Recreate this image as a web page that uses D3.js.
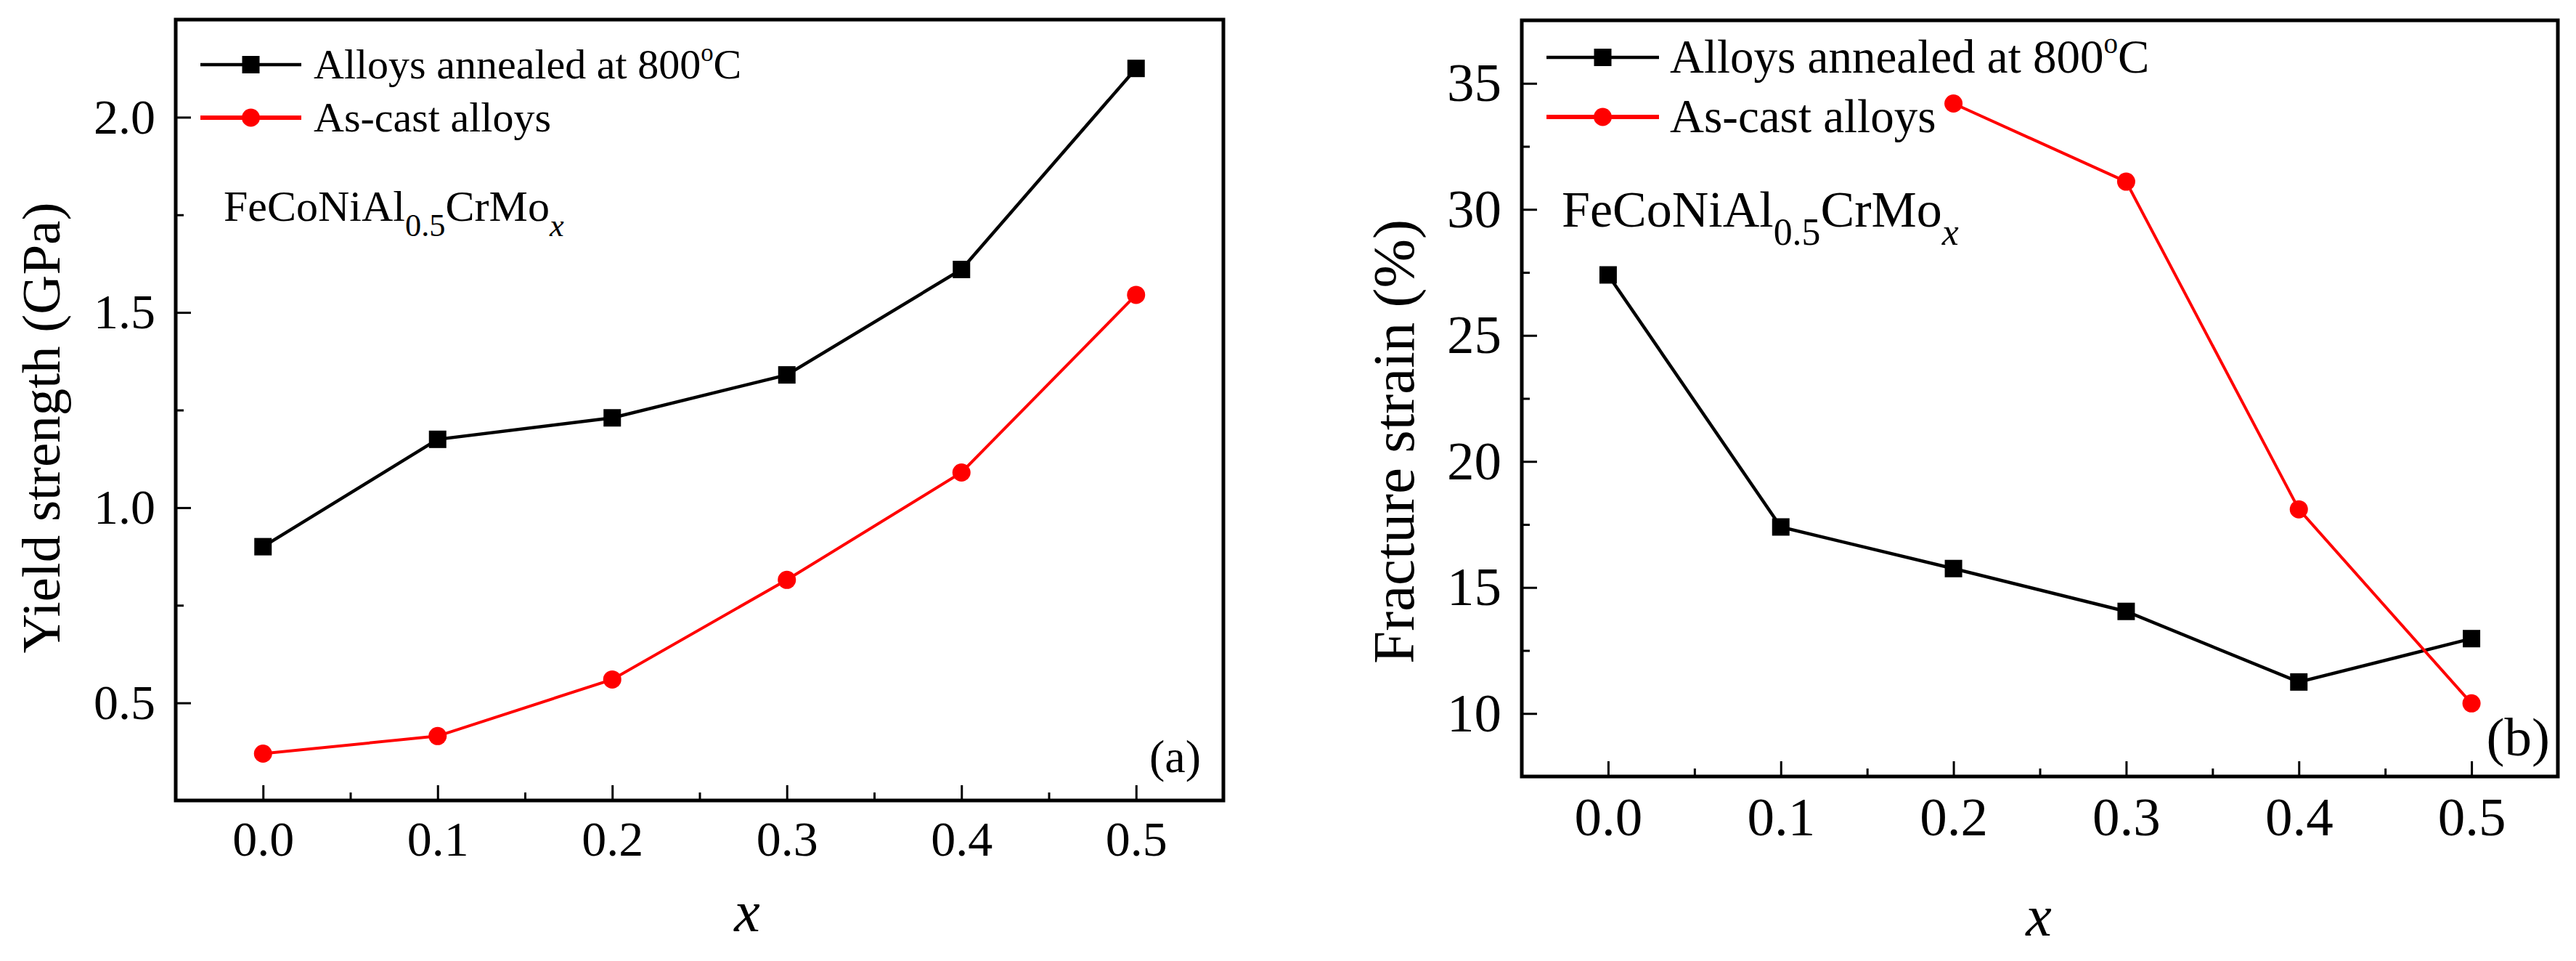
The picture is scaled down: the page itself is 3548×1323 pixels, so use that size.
<!DOCTYPE html>
<html>
<head>
<meta charset="utf-8">
<script src="https://cdn.jsdelivr.net/npm/d3@7"></script>
<style>
  body { margin: 0; background: #fff; }
  svg { display: block; background: #fff; }
  text, tspan { font-family: "Liberation Serif", "Times New Roman", serif; fill: #000; }
</style>
</head>
<body>
<svg id="canvas" width="3548" height="1323"></svg>
<script>
// composition x of FeCoNiAl0.5CrMox
const xValues = [0, 0.1, 0.2, 0.3, 0.4, 0.5];

// yield strength (GPa)
const yieldAnnealed = [0.9, 1.175, 1.23, 1.34, 1.61, 2.125];
const yieldAsCast = [0.37, 0.415, 0.56, 0.815, 1.09, 1.545];

// fracture strain (%), as-cast 0.0 and 0.1 not measured
const strainAnnealed = [27.4, 17.4, 15.75, 14.05, 11.25, 12.97];
const strainAsCast = [null, null, 34.2, 31.1, 18.1, 10.4];

const xMajorTicks = [0, 0.1, 0.2, 0.3, 0.4, 0.5];
const xMinorTicks = [0.05, 0.15, 0.25, 0.35, 0.45];
const yieldMajorTicks = [0.5, 1.0, 1.5, 2.0];
const yieldMinorTicks = [0.75, 1.25, 1.75];
const strainMajorTicks = [10, 15, 20, 25, 30, 35];
const strainMinorTicks = [12.5, 17.5, 22.5, 27.5, 32.5];

const legendNames = ["Alloys annealed at 800", "As-cast alloys"];

const serif = '"Liberation Serif", "Times New Roman", serif';
const canvas = d3.select("#canvas");

const panels = [
  {
    left: 242, right: 1685, top: 27, bottom: 1102,
    yDomain: [0.25, 2.25],
    yMajor: yieldMajorTicks, yMinor: yieldMinorTicks, yFormat: d3.format(".1f"),
    annealed: yieldAnnealed, asCast: yieldAsCast,
    tickFont: 68, legendFont: 58, noteFont: 60, labelFont: 75,
    legendLine: [276, 415], legendRows: [89, 162], legendTextX: 432,
    noteX: 308, noteY: 304,
    tag: "(a)", tagX: 1654, tagY: 1063, tagFont: 64,
    yLabel: "Yield strength (GPa)", yLabelX: 82, yLabelY: 589,
    xLabelX: 1029, xLabelY: 1282,
  },
  {
    left: 2096, right: 3523, top: 28, bottom: 1069,
    yDomain: [7.5, 37.5],
    yMajor: strainMajorTicks, yMinor: strainMinorTicks, yFormat: d3.format("d"),
    annealed: strainAnnealed, asCast: strainAsCast,
    tickFont: 75, legendFont: 65, noteFont: 70, labelFont: 81,
    legendLine: [2130, 2285], legendRows: [79, 161], legendTextX: 2300,
    noteX: 2151, noteY: 312,
    tag: "(b)", tagX: 3512, tagY: 1040, tagFont: 75,
    yLabel: "Fracture strain (%)", yLabelX: 1947, yLabelY: 608,
    xLabelX: 2808, xLabelY: 1288,
  },
];

const squareSymbol = d3.symbol(d3.symbolSquare, 24 * 24);
const circleSymbol = d3.symbol(d3.symbolCircle, Math.PI * 12.5 * 12.5);

const drawPanel = (p) => {
  const g = canvas.append("g");

  const x = d3.scaleLinear().domain([-0.05, 0.55]).range([p.left, p.right]);
  const y = d3.scaleLinear().domain(p.yDomain).range([p.bottom, p.top]);

  // ticks point inwards, labels outside
  const xAxis = g
    .append("g")
    .attr("transform", `translate(0, ${p.bottom})`)
    .call(
      d3.axisBottom(x).tickValues(xMajorTicks).tickSize(-21).tickPadding(28)
        .tickFormat(d3.format(".1f"))
    );
  const xMinor = g
    .append("g")
    .attr("transform", `translate(0, ${p.bottom})`)
    .call(d3.axisBottom(x).tickValues(xMinorTicks).tickSize(-11).tickFormat(""));

  const yAxis = g
    .append("g")
    .attr("transform", `translate(${p.left}, 0)`)
    .call(
      d3.axisLeft(y).tickValues(p.yMajor).tickSize(-21).tickPadding(28)
        .tickFormat(p.yFormat)
    );
  const yMinor = g
    .append("g")
    .attr("transform", `translate(${p.left}, 0)`)
    .call(d3.axisLeft(y).tickValues(p.yMinor).tickSize(-11).tickFormat(""));

  [xAxis, xMinor, yAxis, yMinor].forEach((a) => {
    a.attr("font-size", p.tickFont).attr("font-family", serif);
    a.select(".domain").remove();
    a.selectAll(".tick line").attr("stroke", "#000").attr("stroke-width", 3);
    a.selectAll(".tick text").attr("fill", "#000");
  });

  g.append("rect")
    .attr("x", p.left)
    .attr("y", p.top)
    .attr("width", p.right - p.left)
    .attr("height", p.bottom - p.top)
    .attr("fill", "none")
    .attr("stroke", "#000")
    .attr("stroke-width", 5);

  const line = d3
    .line()
    .defined((d) => d[1] != null)
    .x((d) => x(d[0]))
    .y((d) => y(d[1]));

  const series = [
    { values: p.annealed, color: "#000", symbol: squareSymbol, width: 4.5 },
    { values: p.asCast, color: "#ff0000", symbol: circleSymbol, width: 4 },
  ];

  series.forEach((s) => {
    const points = xValues.map((v, i) => [v, s.values[i]]);
    g.append("path")
      .datum(points)
      .attr("d", line)
      .attr("fill", "none")
      .attr("stroke", s.color)
      .attr("stroke-width", s.width);
    g.selectAll(null)
      .data(points.filter((d) => d[1] != null))
      .enter()
      .append("path")
      .attr("transform", (d) => `translate(${x(d[0])}, ${y(d[1])})`)
      .attr("d", s.symbol)
      .attr("fill", s.color);
  });

  // legend
  series.forEach((s, i) => {
    const rowY = p.legendRows[i];
    g.append("line")
      .attr("x1", p.legendLine[0])
      .attr("x2", p.legendLine[1])
      .attr("y1", rowY)
      .attr("y2", rowY)
      .attr("stroke", s.color)
      .attr("stroke-width", i === 0 ? 4.5 : 6);
    g.append("path")
      .attr("transform", `translate(${(p.legendLine[0] + p.legendLine[1]) / 2}, ${rowY})`)
      .attr("d", s.symbol)
      .attr("fill", s.color);
    const label = g
      .append("text")
      .attr("x", p.legendTextX)
      .attr("y", rowY + 0.33 * p.legendFont)
      .attr("font-family", serif)
      .attr("font-size", p.legendFont)
      .text(legendNames[i]);
    if (i === 0) {
      label.append("tspan").attr("dy", -0.42 * p.legendFont)
        .attr("font-size", p.legendFont * 0.6).text("o");
      label.append("tspan").attr("dy", 0.42 * p.legendFont).text("C");
    }
  });

  // composition note
  const note = g
    .append("text")
    .attr("x", p.noteX)
    .attr("y", p.noteY)
    .attr("font-family", serif)
    .attr("font-size", p.noteFont)
    .text("FeCoNiAl");
  const sub = p.noteFont * 0.74;
  note.append("tspan").attr("dy", 0.35 * p.noteFont).attr("font-size", sub).text("0.5");
  note.append("tspan").attr("dy", -0.35 * p.noteFont).text("CrMo");
  note.append("tspan").attr("dy", 0.35 * p.noteFont).attr("font-size", sub)
    .attr("font-style", "italic").text("x");

  g.append("text")
    .attr("x", p.tagX)
    .attr("y", p.tagY)
    .attr("text-anchor", "end")
    .attr("font-family", serif)
    .attr("font-size", p.tagFont)
    .text(p.tag);

  g.append("text")
    .attr("transform", `translate(${p.yLabelX}, ${p.yLabelY}) rotate(-90)`)
    .attr("text-anchor", "middle")
    .attr("font-family", serif)
    .attr("font-size", p.labelFont)
    .text(p.yLabel);

  g.append("text")
    .attr("x", p.xLabelX)
    .attr("y", p.xLabelY)
    .attr("text-anchor", "middle")
    .attr("font-family", serif)
    .attr("font-size", 80)
    .attr("font-style", "italic")
    .text("x");
};

panels.forEach(drawPanel);
</script>
</body>
</html>
